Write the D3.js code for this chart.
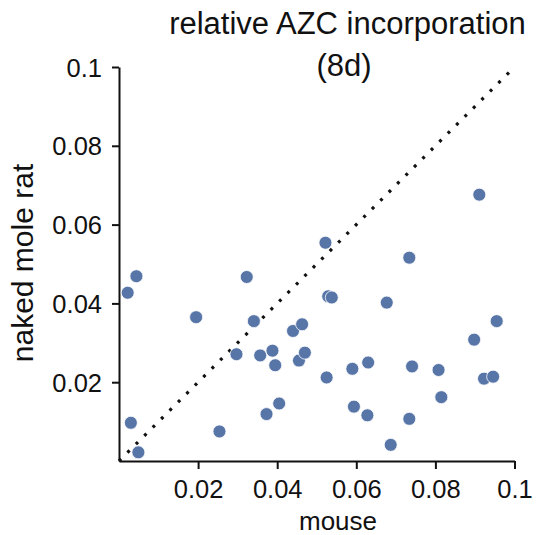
<!DOCTYPE html>
<html>
<head>
<meta charset="utf-8">
<script src="https://cdn.jsdelivr.net/npm/d3@7"></script>
<style>
  body { margin: 0; background: #fff; }
  text { font-family: "Liberation Sans", Arial, sans-serif; fill: #111; }
</style>
</head>
<body>
<svg id="chart" width="544" height="535"></svg>
<script>
// mouse vs naked mole rat values
var mouse = [0.0022, 0.0044, 0.0323, 0.0195, 0.0911, 0.0522, 0.0734, 0.0529, 0.0538, 0.0677,
  0.0341, 0.0440, 0.0463, 0.0297, 0.0357, 0.0388, 0.0395, 0.0455, 0.0470, 0.0405,
  0.0373, 0.0254, 0.0030, 0.0049, 0.0955, 0.0898, 0.0525, 0.0590, 0.0630, 0.0741,
  0.0808, 0.0923, 0.0946, 0.0815, 0.0594, 0.0628, 0.0734, 0.0687];
var nakedMoleRat = [0.0427, 0.0469, 0.0467, 0.0365, 0.0676, 0.0554, 0.0516, 0.0418, 0.0415, 0.0402,
  0.0355, 0.0330, 0.0347, 0.0271, 0.0268, 0.0280, 0.0243, 0.0255, 0.0275, 0.0146,
  0.0119, 0.0075, 0.0097, 0.0022, 0.0355, 0.0308, 0.0212, 0.0234, 0.0250, 0.0240,
  0.0231, 0.0209, 0.0214, 0.0162, 0.0138, 0.0116, 0.0107, 0.0041];
var tickVals = [0.02, 0.04, 0.06, 0.08, 0.1];
var domain = [0, 0.1];

var svg = d3.select("#chart");
var plotL = 119, plotR = 514.5, plotT = 67, plotB = 461;

var x = d3.scaleLinear().domain(domain).range([plotL, plotR]);
var y = d3.scaleLinear().domain(domain).range([plotB, plotT]);

var fmt = function(d) { return d === 0.1 ? "0.1" : d3.format(".2f")(d); };

var xAxis = svg.append("g")
  .attr("transform", "translate(0," + plotB + ")")
  .call(d3.axisBottom(x).tickValues(tickVals).tickFormat(fmt).tickSize(8).tickPadding(6).tickSizeOuter(0));
var yAxis = svg.append("g")
  .attr("transform", "translate(" + plotL + ",0)")
  .call(d3.axisLeft(y).tickValues(tickVals).tickFormat(fmt).tickSize(7).tickPadding(10).tickSizeOuter(0));

[xAxis, yAxis].forEach(function(a) {
  a.select(".domain").attr("stroke", "#111").attr("stroke-width", 2);
  a.selectAll(".tick line").attr("stroke", "#111").attr("stroke-width", 2);
  a.selectAll(".tick text").style("font-size", "25.5px").attr("fill", "#111");
});
xAxis.selectAll(".tick text").attr("dy", "0.9em");
yAxis.selectAll(".tick text").attr("dy", "0.36em");

// identity line
svg.append("line")
  .attr("x1", x(0)).attr("y1", y(0))
  .attr("x2", x(0.1)).attr("y2", y(0.1))
  .attr("stroke", "#111")
  .attr("stroke-width", 3.2)
  .attr("stroke-dasharray", "3,8.9");

var pts = mouse.map(function(m, i) { return [m, nakedMoleRat[i]]; });
svg.append("g").selectAll("circle").data(pts)
  .enter().append("circle")
  .attr("cx", d => x(d[0]))
  .attr("cy", d => y(d[1]))
  .attr("r", 6.5)
  .attr("fill", "#5875a7")
  .attr("stroke", "#fff")
  .attr("stroke-width", 0.8);

svg.append("text").attr("x", 347.5).attr("y", 34).attr("text-anchor", "middle")
  .style("font-size", "31px").text("relative AZC incorporation");
svg.append("text").attr("x", 344).attr("y", 76).attr("text-anchor", "middle")
  .style("font-size", "31px").text("(8d)");
svg.append("text").attr("x", 338).attr("y", 530).attr("text-anchor", "middle")
  .style("font-size", "26px").text("mouse");
svg.append("text").attr("transform", "translate(33,263) rotate(-90)").attr("text-anchor", "middle")
  .style("font-size", "30px").text("naked mole rat");
</script>
</body>
</html>
